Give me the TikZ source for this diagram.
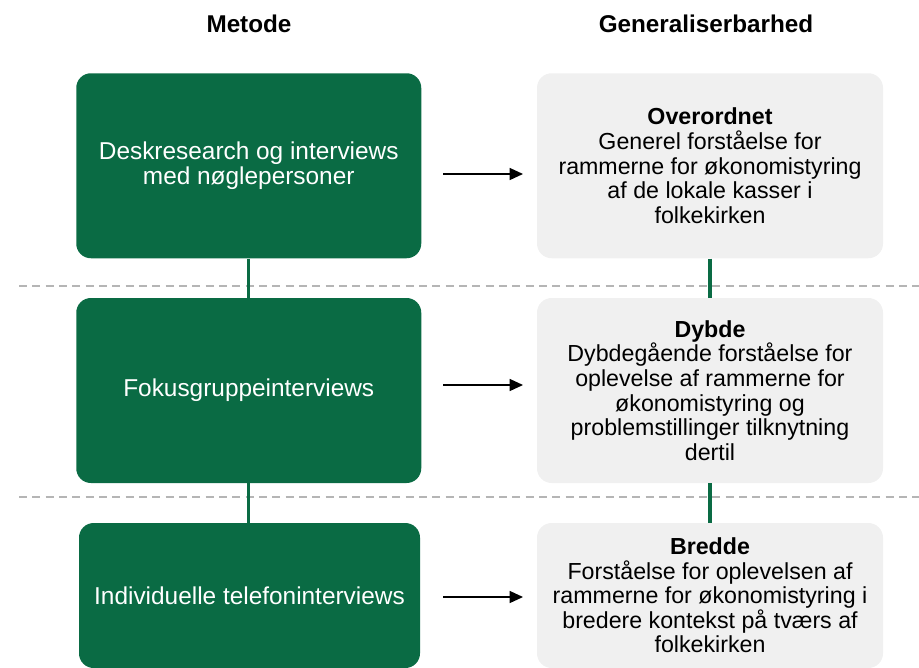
\documentclass[tikz,border=0pt]{standalone}
\usepackage{fontspec}
\setmainfont{Liberation Sans}
\usetikzlibrary{arrows.meta}
\definecolor{dgreen}{HTML}{0A6B44}
\definecolor{lgrey}{HTML}{F0F0F0}
\definecolor{dgrey}{HTML}{B5B5B5}
\begin{document}
\begin{tikzpicture}[x=0.75pt,y=-0.75pt,
  mbox/.style={fill=dgreen,rounded corners=11pt,minimum width=258.75pt,minimum height=138.75pt,
    text=white,align=center,font=\fontsize{18.3}{18.9}\selectfont,inner sep=0pt},
  gbox/.style={fill=lgrey,rounded corners=11pt,minimum width=259.5pt,minimum height=138.75pt,
    text=black,align=center,font=\fontsize{17.4}{18.4}\selectfont,inner sep=0pt},
  head/.style={font=\fontsize{18.2}{20}\selectfont\bfseries},
  link/.style={draw=dgreen,line width=2.4pt},
  sep/.style={draw=dgrey,line width=1.1pt,dash pattern=on 6pt off 4pt},
  flow/.style={draw=black,line width=1pt,-{Triangle[length=10pt,width=9pt]}}]
\useasboundingbox (0,0) rectangle (919,667);
% headings
\node[head] (h1) at (249,24) {Metode};
\node[head] (h2) at (706,24) {Generaliserbarhed};
% dashed separators
\coordinate (d1a) at (19,286); \coordinate (d1b) at (919,286);
\coordinate (d2a) at (19,497); \coordinate (d2b) at (919,497);
\draw[sep] (d1a) -- (d1b);
\draw[sep] (d2a) -- (d2b);
% left boxes
\node[mbox] (L1) at (248.75,165.75) {Deskresearch og interviews\\med nøglepersoner};
\node[mbox] (L2) at (248.75,390.5) {Fokusgruppeinterviews};
\node[mbox,minimum width=255.75pt,minimum height=108.75pt] (L3) at (249.5,595.5) {Individuelle telefoninterviews};
% right boxes
\node[gbox] (R1) at (710,165.75) {\textbf{Overordnet}\\Generel forståelse for\\rammerne for økonomistyring\\af de lokale kasser i\\folkekirken};
\node[gbox] (R2) at (710,390.5) {\textbf{Dybde}\\Dybdegående forståelse for\\oplevelse af rammerne for\\økonomistyring og\\problemstillinger tilknytning\\dertil};
\node[gbox,minimum height=108.75pt] (R3) at (710,595.5) {\textbf{Bredde}\\Forståelse for oplevelsen af\\rammerne for økonomistyring i\\bredere kontekst på tværs af\\folkekirken};
% vertical links
\draw[link] (L1.south) -- (L2.north);
\draw[link] (L2.south) -- (L2.south |- L3.north);
\draw[link] (R1.south) -- (R2.north);
\draw[link] (R2.south) -- (R3.north);
% arrows
\coordinate (a1s) at (443,174); \coordinate (a1e) at (523,174);
\coordinate (a2s) at (443,385); \coordinate (a2e) at (523,385);
\coordinate (a3s) at (443,597); \coordinate (a3e) at (523,597);
\draw[flow] (a1s) -- (a1e);
\draw[flow] (a2s) -- (a2e);
\draw[flow] (a3s) -- (a3e);
\end{tikzpicture}
\end{document}
